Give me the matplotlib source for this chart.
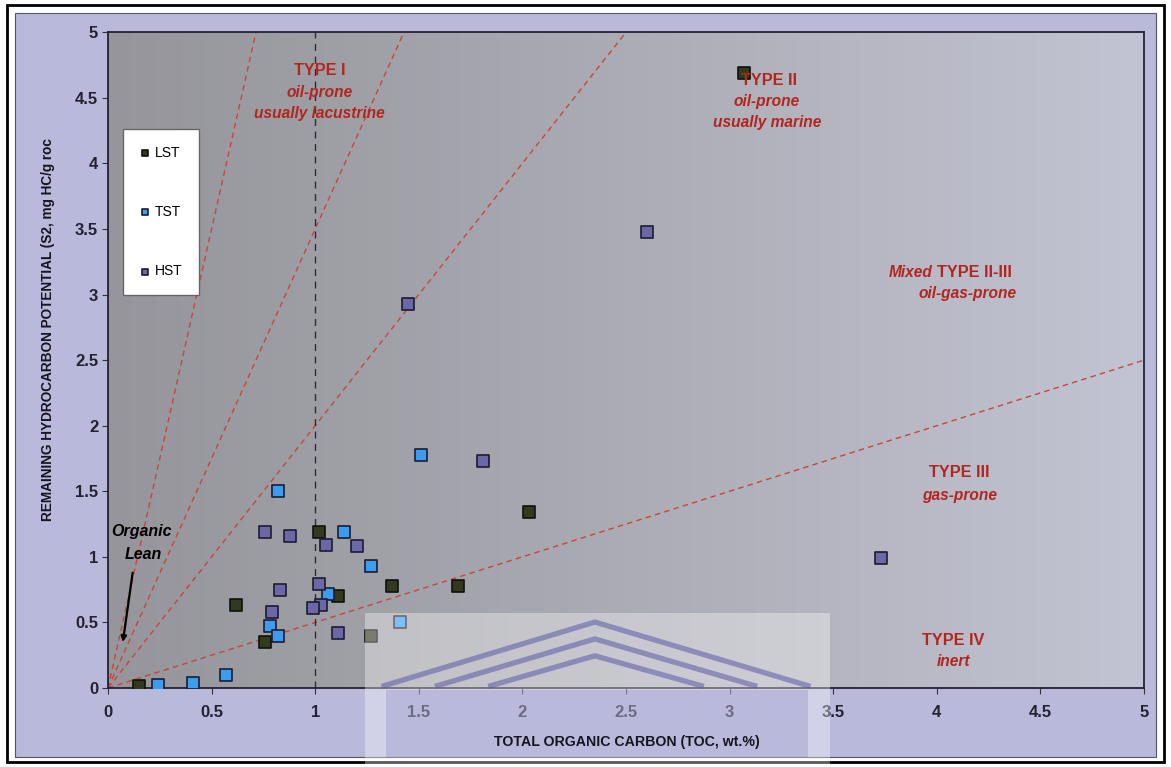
import numpy as np
import matplotlib
matplotlib.use("Agg")
from matplotlib import pyplot as plt
from matplotlib.patches import Rectangle

plt.rcParams['font.family'] = ['Liberation Sans', 'DejaVu Sans']

# data (TOC wt.%, S2 mg HC/g rock)
lst_toc = [3.07, 1.02, 2.03, 0.62, 1.37, 1.69, 1.11, 0.76, 0.15, 1.27]
lst_s2 = [4.69, 1.19, 1.34, 0.63, 0.78, 0.78, 0.70, 0.35, 0.015, 0.40]

tst_toc = [0.82, 1.51, 1.14, 1.27, 1.06, 0.78, 0.82, 0.57, 0.41, 0.24, 1.41]
tst_s2 = [1.50, 1.78, 1.19, 0.93, 0.72, 0.47, 0.40, 0.10, 0.04, 0.02, 0.50]

hst_toc = [2.60, 1.45, 1.81, 3.73, 0.76, 0.88, 1.05, 1.20, 0.83, 1.02, 0.79, 1.03, 0.99, 1.11]
hst_s2 = [3.48, 2.93, 1.73, 0.99, 1.19, 1.16, 1.09, 1.08, 0.75, 0.79, 0.58, 0.63, 0.61, 0.42]

# kerogen type boundary slopes (S2 / TOC)
type_slopes = [7.0, 3.5, 2.0, 0.5]

fig = plt.figure(figsize=(11.71, 7.67), dpi=100)
fig.patch.set_facecolor("white")

# outer frame and lavender chart area (behind the axes)
fig.patches.append(Rectangle((0.006, 0.006), 0.988, 0.988, transform=fig.transFigure,
                             fill=False, edgecolor="black", linewidth=2, zorder=-10))
fig.patches.append(Rectangle((0.013, 0.013), 0.974, 0.97, transform=fig.transFigure,
                             facecolor="#b9b9dc", edgecolor="#555566", linewidth=0.8, zorder=-9))

ax = fig.add_axes([0.0922, 0.103, 0.8848, 0.855])

# grey-to-lavender gradient background of the plot area
grad = np.linspace(0, 1, 256).reshape(1, -1)
cmap = matplotlib.colors.LinearSegmentedColormap.from_list("bg", ["#95959b", "#abacb4", "#c3c4d3"])
ax.imshow(grad, extent=[0, 5, 0, 5], aspect="auto", cmap=cmap, zorder=0)

# type boundary lines
xs = np.array([0, 5])
for k in type_slopes:
    ax.plot(xs, k * xs, color="#c8463a", linestyle=(0, (4, 3)), linewidth=1, zorder=1)
ax.axvline(1, color="#2a2a3a", linestyle=(0, (5, 4)), linewidth=1, zorder=1)

ax.scatter(lst_toc, lst_s2, marker="s", s=70, color="#323a1e", edgecolor="#111111", linewidth=1.2, label="LST", zorder=3)
ax.scatter(tst_toc, tst_s2, marker="s", s=70, color="#3a9df0", edgecolor="#1c1c30", linewidth=1.2, label="TST", zorder=3)
ax.scatter(hst_toc, hst_s2, marker="s", s=70, color="#6c67a6", edgecolor="#1c1c30", linewidth=1.2, label="HST", zorder=3)

ax.set_xlim(0, 5)
ax.set_ylim(0, 5)
ax.set_xticks(np.arange(0, 5.01, 0.5))
ax.set_yticks(np.arange(0, 5.01, 0.5))
ax.set_xticklabels(["0", "0.5", "1", "1.5", "2", "2.5", "3", "3.5", "4", "4.5", "5"])
ax.set_yticklabels(["0", "0.5", "1", "1.5", "2", "2.5", "3", "3.5", "4", "4.5", "5"])
ax.tick_params(labelsize=12, length=4, color="#333344")
ax.tick_params(axis="x", pad=8)
ax.tick_params(axis="y", pad=3)
for lab in ax.get_xticklabels() + ax.get_yticklabels():
    lab.set_fontweight("bold")
    lab.set_color("#222230")
for sp in ax.spines.values():
    sp.set_color("#222230")
    sp.set_linewidth(1.3)

fig.text(0.041, 0.570, "REMAINING HYDROCARBON POTENTIAL (S2, mg HC/g roc", rotation=90,
         fontsize=9.8, fontweight="bold", ha="center", va="center", color="#15151f")

# region annotations (drawn over the markers)
red = "#b3261e"
big = 11.7
small = 11.2
kw = dict(color=red, fontweight="bold", ha="center", va="center", zorder=5)
ax.text(1.02, 4.71, "TYPE I", fontsize=big, **kw)
ax.text(1.02, 4.54, "oil-prone", fontsize=small, style="italic", **kw)
ax.text(1.02, 4.38, "usually lacustrine", fontsize=small, style="italic", **kw)

ax.text(3.19, 4.63, "TYPE II", fontsize=big, **kw)
ax.text(3.18, 4.47, "oil-prone", fontsize=small, style="italic", **kw)
ax.text(3.18, 4.31, "usually marine", fontsize=small, style="italic", **kw)

ax.text(3.98, 3.17, "Mixed", color=red, fontsize=small, fontweight="bold", style="italic", ha="right", va="center", zorder=5)
ax.text(4.00, 3.17, "TYPE II-III", color=red, fontsize=big, fontweight="bold", ha="left", va="center", zorder=5)
ax.text(4.15, 3.01, "oil-gas-prone", fontsize=small, style="italic", **kw)

ax.text(4.11, 1.64, "TYPE III", fontsize=big, **kw)
ax.text(4.11, 1.47, "gas-prone", fontsize=small, style="italic", **kw)

ax.text(4.08, 0.36, "TYPE IV", fontsize=big, **kw)
ax.text(4.08, 0.20, "inert", fontsize=small, style="italic", **kw)

ax.text(0.164, 1.19, "Organic", color="black", fontsize=11.5, fontweight="bold", style="italic", ha="center", va="center")
ax.text(0.17, 1.02, "Lean", color="black", fontsize=11.5, fontweight="bold", style="italic", ha="center", va="center")
ax.annotate("", xy=(0.070, 0.33), xytext=(0.121, 0.90),
            arrowprops=dict(arrowstyle="-|>", color="black", lw=1.6, mutation_scale=8))

leg = ax.legend(loc="upper left", bbox_to_anchor=(0.0145, 0.852), frameon=True, fancybox=False,
                fontsize=10, markerscale=0.45, labelspacing=3.25, borderpad=1.2, handletextpad=0.3,
                handlelength=0.8, borderaxespad=0)
leg.get_frame().set_facecolor("white")
leg.get_frame().set_edgecolor("#666666")
leg.get_frame().set_alpha(1)

# translucent watermark at the bottom
fig.patches.append(Rectangle((0.312, 0.0), 0.397, 0.201, transform=fig.transFigure,
                             facecolor="white", alpha=0.35, edgecolor="none", zorder=5))
for dy in [0.0, 0.022, 0.044]:
    dx = dy * 0.178 / 0.086
    fig.lines.append(plt.Line2D([0.328 + dx, 0.508, 0.690 - dx],
                                [0.106, 0.189 - dy, 0.106],
                                transform=fig.transFigure, color="#5a5aa8", alpha=0.55, lw=3.8, zorder=6))
fig.patches.append(Rectangle((0.33, 0.012), 0.36, 0.088, transform=fig.transFigure,
                             facecolor="#6464b4", alpha=0.22, edgecolor="none", zorder=6))

fig.text(0.535, 0.0326, "TOTAL ORGANIC CARBON (TOC, wt.%)", fontsize=10.2, fontweight="bold",
         ha="center", va="center", color="#15151f", zorder=8)

fig.savefig("out.png", dpi=100)
